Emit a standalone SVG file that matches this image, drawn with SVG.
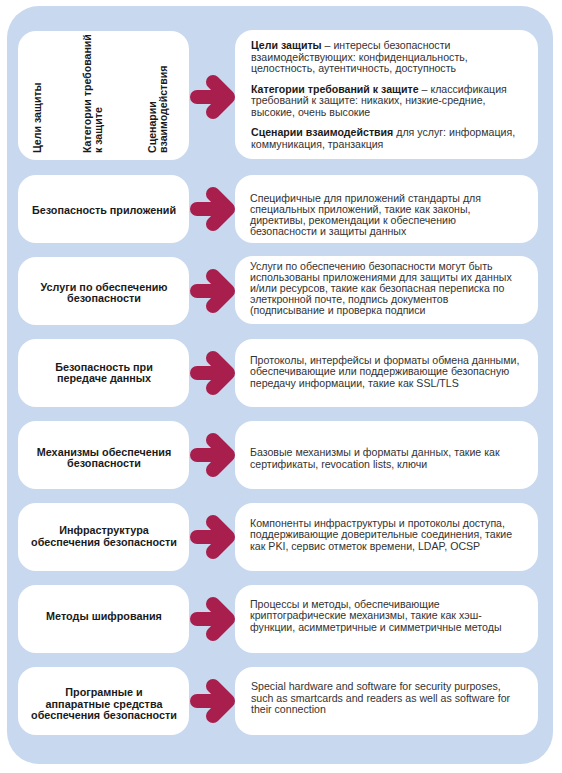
<svg xmlns="http://www.w3.org/2000/svg" width="562" height="773" viewBox="0 0 562 773">
<style>
.bg{fill:#c7d8ef}
.box{fill:#ffffff}
.lbl{font-family:"Liberation Sans",Arial,sans-serif;font-size:10.8px;font-weight:bold;fill:#1a1a1a;text-anchor:middle}
.rl{font-family:"Liberation Sans",Arial,sans-serif;font-size:10.6px;font-weight:bold;fill:#1a1a1a}
.desc{font-family:"Liberation Sans",Arial,sans-serif;font-size:10.6px;fill:#333333}
.desc tspan.b{font-weight:bold;fill:#1a1a1a}
.arr{fill:none;stroke:#a81f4e;stroke-width:14;stroke-linecap:round;stroke-linejoin:round}
</style>
<defs>
<g id="arrow">
<path class="arr" d="M-16,0 L13,0 M0,-15 L15,0 L0,15"/>
</g>
</defs>
<rect class="bg" x="7" y="6" width="546" height="758" rx="32" ry="32"/>

<g id="n1-left">
<rect class="box" x="18" y="31" width="171" height="129" rx="18"/>
<text class="rl" transform="translate(41,153) rotate(-90)">Цели защиты</text>
<text class="rl" transform="translate(91,153) rotate(-90)">Категории требований</text>
<text class="rl" transform="translate(102,153) rotate(-90)">к защите</text>
<text class="rl" transform="translate(156,153) rotate(-90)">Сценарии</text>
<text class="rl" transform="translate(167,153) rotate(-90)">взаимодействия</text>
</g>
<g id="n1-right">
<rect class="box" x="235" y="30" width="303" height="129" rx="18"/>
<text class="desc" x="251" y="49"><tspan class="b">Цели защиты</tspan> – интересы безопасности</text>
<text class="desc" x="251" y="60.5">взаимодействующих: конфиденциальность,</text>
<text class="desc" x="251" y="72">целостность, аутентичность, доступность</text>
<text class="desc" x="251" y="92.5"><tspan class="b">Категории требований к защите</tspan> – классификация</text>
<text class="desc" x="251" y="104">требований к защите: никаких, низкие-средние,</text>
<text class="desc" x="251" y="115.5">высокие, очень высокие</text>
<text class="desc" x="251" y="136"><tspan class="b">Сценарии взаимодействия</tspan> для услуг: информация,</text>
<text class="desc" x="251" y="147.5">коммуникация, транзакция</text>
</g>

<g id="n2-left">
<rect class="box" x="18" y="175" width="171" height="68" rx="18"/>
<text class="lbl" x="104" y="214">Безопасность приложений</text>
</g>
<g id="n2-right">
<rect class="box" x="235" y="175" width="303" height="68" rx="18"/>
<text class="desc" x="250" y="201.5">Специфичные для приложений стандарты для</text>
<text class="desc" x="250" y="212.5">специальных приложений, такие как законы,</text>
<text class="desc" x="250" y="223.5">директивы, рекомендации к обеспечению</text>
<text class="desc" x="250" y="234.5">безопасности и защиты данных</text>
</g>

<g id="n3-left">
<rect class="box" x="18" y="257" width="171" height="68" rx="18"/>
<text class="lbl" x="104" y="290.5">Услуги по обеспечению</text>
<text class="lbl" x="104" y="301.5">безопасности</text>
</g>
<g id="n3-right">
<rect class="box" x="235" y="256" width="303" height="68" rx="18"/>
<text class="desc" x="250" y="270">Услуги по обеспечению безопасности могут быть</text>
<text class="desc" x="250" y="281">использованы приложениями для защиты их данных</text>
<text class="desc" x="250" y="292">и/или ресурсов, такие как безопасная переписка по</text>
<text class="desc" x="250" y="303">элеткронной почте, подпись документов</text>
<text class="desc" x="250" y="314">(подписывание и проверка подписи</text>
</g>

<g id="n4-left">
<rect class="box" x="18" y="339" width="171" height="68" rx="18"/>
<text class="lbl" x="104" y="370.5">Безопасность при</text>
<text class="lbl" x="104" y="382">передаче данных</text>
</g>
<g id="n4-right">
<rect class="box" x="235" y="339" width="303" height="68" rx="18"/>
<text class="desc" x="250" y="363.5">Протоколы, интерфейсы и форматы обмена данными,</text>
<text class="desc" x="250" y="375">обеспечивающие или поддерживающие безопасную</text>
<text class="desc" x="250" y="386.5">передачу информации, такие как SSL/TLS</text>
</g>

<g id="n5-left">
<rect class="box" x="18" y="421" width="171" height="68" rx="18"/>
<text class="lbl" x="104" y="455.5">Механизмы обеспечения</text>
<text class="lbl" x="104" y="467">безопасности</text>
</g>
<g id="n5-right">
<rect class="box" x="235" y="421" width="303" height="68" rx="18"/>
<text class="desc" x="250" y="456">Базовые механизмы и форматы данных, такие как</text>
<text class="desc" x="250" y="467.5">сертификаты, revocation lists, ключи</text>
</g>

<g id="n6-left">
<rect class="box" x="18" y="503" width="171" height="68" rx="18"/>
<text class="lbl" x="104" y="533.5">Инфраструктура</text>
<text class="lbl" x="104" y="545.5">обеспечения безопасности</text>
</g>
<g id="n6-right">
<rect class="box" x="235" y="503" width="303" height="68" rx="18"/>
<text class="desc" x="250" y="526.5">Компоненты инфраструктуры и протоколы доступа,</text>
<text class="desc" x="250" y="538">поддерживающие доверительные соединения, такие</text>
<text class="desc" x="250" y="549.5">как PKI, сервис отметок времени, LDAP, OCSP</text>
</g>

<g id="n7-left">
<rect class="box" x="18" y="585" width="171" height="68" rx="18"/>
<text class="lbl" x="104" y="619.5">Методы шифрования</text>
</g>
<g id="n7-right">
<rect class="box" x="235" y="585" width="303" height="68" rx="18"/>
<text class="desc" x="250" y="607.5">Процессы и методы, обеспечивающие</text>
<text class="desc" x="250" y="619">криптографические механизмы, такие как хэш-</text>
<text class="desc" x="250" y="630.5">функции, асимметричные и симметричные методы</text>
</g>

<g id="n8-left">
<rect class="box" x="18" y="667" width="171" height="68" rx="18"/>
<text class="lbl" x="104" y="696">Програмные и</text>
<text class="lbl" x="104" y="707.5">аппаратные средства</text>
<text class="lbl" x="104" y="719">обеспечения безопасности</text>
</g>
<g id="n8-right">
<rect class="box" x="235" y="667" width="303" height="68" rx="18"/>
<text class="desc" x="251" y="690">Special hardware and software for security purposes,</text>
<text class="desc" x="251" y="701.5">such as smartcards and readers as well as software for</text>
<text class="desc" x="251" y="713">their connection</text>
</g>

<g id="connectors">
<use href="#arrow" x="213" y="97"/>
<use href="#arrow" x="213" y="209"/>
<use href="#arrow" x="213" y="291"/>
<use href="#arrow" x="213" y="373"/>
<use href="#arrow" x="213" y="455"/>
<use href="#arrow" x="213" y="537"/>
<use href="#arrow" x="213" y="619"/>
<use href="#arrow" x="213" y="701"/>
</g>
</svg>
